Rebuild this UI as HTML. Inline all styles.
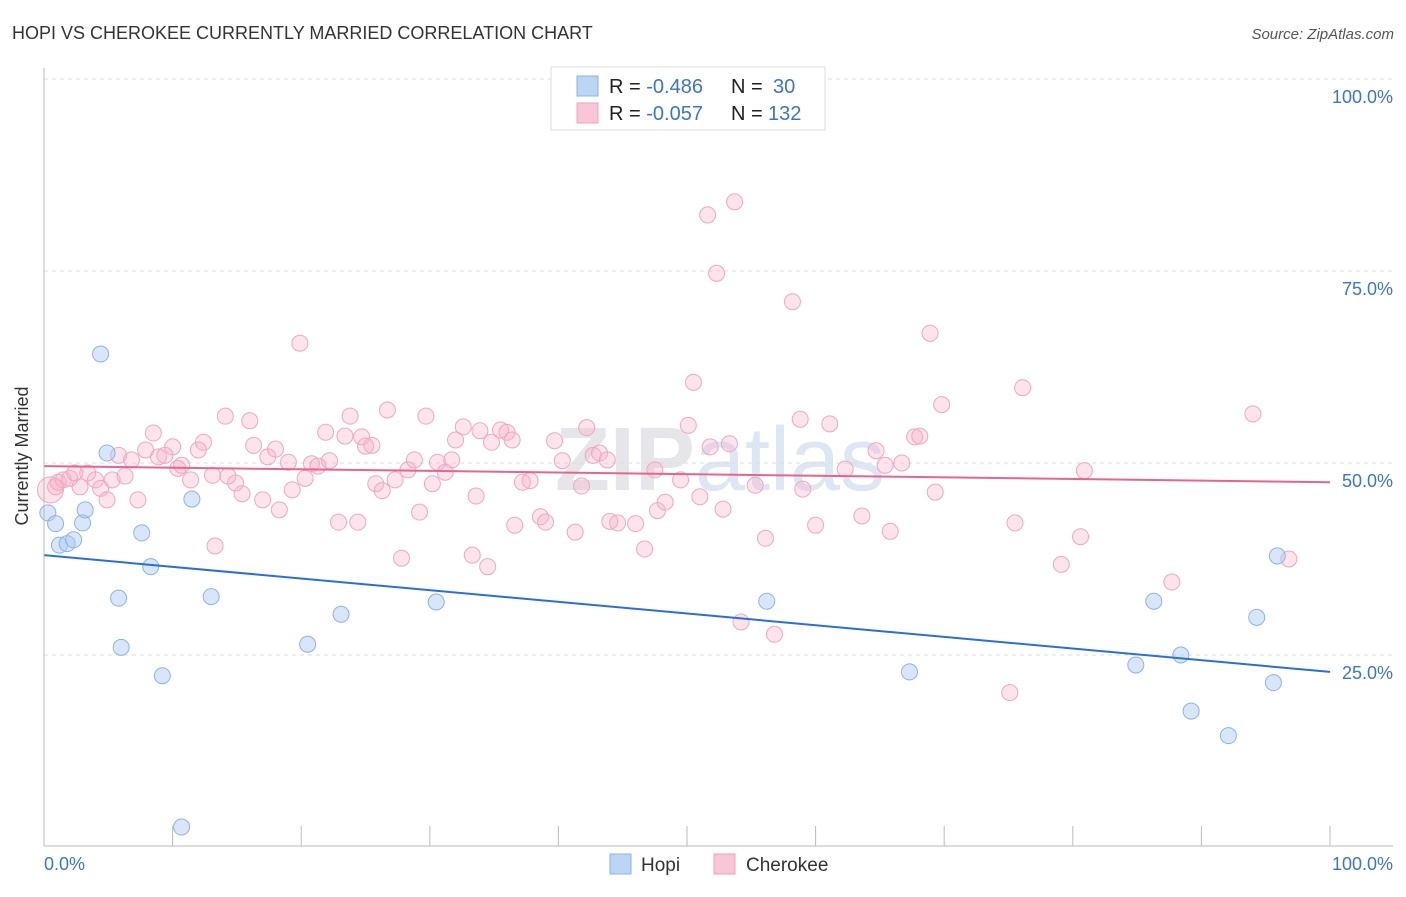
<!DOCTYPE html>
<html><head><meta charset="utf-8"><style>
body{margin:0;background:#fff;font-family:"Liberation Sans",sans-serif}
svg text{font-family:"Liberation Sans",sans-serif}
</style></head><body>
<svg id="c" width="1406" height="892" xmlns="http://www.w3.org/2000/svg">
<text x="12" y="39" font-size="18" fill="#333">HOPI VS CHEROKEE CURRENTLY MARRIED CORRELATION CHART</text>
<text x="1394" y="39" font-size="15" fill="#555" font-style="italic" text-anchor="end">Source: ZipAtlas.com</text>
<text x="28" y="456" font-size="18" fill="#333" text-anchor="middle" transform="rotate(-90 28 456)">Currently Married</text>
<text x="720" y="490" font-size="90" fill="#e6e6ea" text-anchor="middle" font-weight="bold">ZIP<tspan fill="#dde6f3" font-weight="normal">atlas</tspan></text>
<g id="grid"></g><g id="pts"></g><g id="lines"></g>
<line x1="44" y1="68" x2="44" y2="846" stroke="#bbb"/>
<line x1="44" y1="846" x2="1393" y2="846" stroke="#bbb"/>
<text x="44" y="870" font-size="18" fill="#3b74d0">0.0%</text>
<text x="1393" y="870" font-size="18" fill="#3b74d0" text-anchor="end">100.0%</text>
<g>
<rect x="551" y="67" width="274" height="63" fill="#fff" stroke="#ddd"/>
<rect x="577" y="76" width="21" height="20" fill="#bcd5f5" stroke="#8ab4e8"/>
<rect x="577" y="103" width="21" height="20" fill="#f8c6d6" stroke="#f0a0bc"/>
<text x="609" y="93" font-size="20" fill="#222">R = <tspan fill="#3b74d0">-0.486</tspan><tspan x="731">N = </tspan><tspan x="773" fill="#3b74d0">30</tspan></text>
<text x="609" y="120" font-size="20" fill="#222">R = <tspan fill="#3b74d0">-0.057</tspan><tspan x="731">N = </tspan><tspan x="768" fill="#3b74d0">132</tspan></text>
</g>
<g>
<rect x="610" y="854" width="21" height="20" fill="#bcd5f5" stroke="#8ab4e8"/>
<text x="641" y="871" font-size="19" fill="#333">Hopi</text>
<rect x="714" y="854" width="21" height="20" fill="#f8c6d6" stroke="#f0a0bc"/>
<text x="746" y="871" font-size="19" fill="#333">Cherokee</text>
</g>
</svg>
<script>
const yTicks=[25,50,75,100];
const yTickLabels=["25.0%","50.0%","75.0%","100.0%"];
const xTicks=[0,10,20,30,40,50,60,70,80,90,100];
const hopiX=[0.3,0.9,1.2,1.8,2.3,3.0,3.2,4.4,4.9,5.8,6.0,7.6,8.3,9.2,10.7,11.5,13.0,20.5,23.1,30.5,56.2,67.3,84.9,86.3,88.4,89.2,92.1,94.3,95.6,95.9];
const hopiY=[43.5,42.1,39.3,39.5,40.0,42.2,43.9,64.2,51.3,32.4,26.0,40.9,36.5,22.3,2.6,45.3,32.6,26.4,30.3,31.9,32.0,22.8,23.7,32.0,25.0,17.7,14.5,29.9,21.4,37.9];
const cherX=[0.5,0.9,1.1,1.5,2.0,2.4,2.8,3.4,4.0,4.4,4.9,5.3,5.8,6.3,6.8,7.3,7.9,8.5,8.9,9.4,10.0,10.4,10.7,11.4,12.0,12.4,13.1,13.3,14.1,14.3,14.9,15.4,16.0,16.3,17.0,17.4,18.0,18.3,19.0,19.3,19.9,20.3,20.8,21.3,21.9,22.2,22.9,23.4,23.8,24.4,24.7,25.0,25.5,25.8,26.3,26.7,27.3,27.8,28.3,28.8,29.2,29.7,30.2,30.6,31.2,31.7,32.0,32.6,33.3,33.6,33.9,34.5,34.8,35.5,36.0,36.4,36.6,37.2,37.8,38.6,39.0,39.7,40.3,41.3,41.8,42.2,42.7,43.2,43.8,44.0,44.6,46.0,46.7,47.5,47.7,48.3,49.5,50.1,50.5,51.0,51.6,51.8,52.3,52.8,53.3,53.7,54.2,55.3,56.1,56.8,58.2,58.8,59.0,60.0,61.1,62.3,63.6,64.7,65.4,65.8,66.7,67.7,68.1,68.9,69.3,69.8,75.1,75.5,76.1,79.1,80.6,80.9,87.7,94.0,96.8];
const cherY=[46.5,46.9,47.5,47.8,48.0,48.7,46.9,48.7,47.8,46.7,45.2,47.8,51.0,48.3,50.4,45.2,51.7,53.9,50.8,51.0,52.1,49.3,49.7,47.8,51.7,52.7,48.4,39.2,56.1,48.3,47.4,46.0,55.5,52.3,45.2,50.8,51.8,43.9,50.1,46.5,65.6,48.0,49.9,49.6,54.0,50.3,42.3,53.5,56.1,42.3,53.4,52.2,52.3,47.3,46.4,56.9,47.8,37.6,49.1,50.4,43.6,56.1,47.3,50.1,48.8,50.4,53.0,54.7,38.0,45.7,54.2,36.5,52.7,54.3,54.0,53.0,41.9,47.5,47.7,43.0,42.3,52.9,50.3,41.0,47.0,54.6,51.0,51.3,50.4,42.4,42.2,42.1,38.8,49.1,43.8,44.9,47.8,54.9,60.5,45.6,82.3,52.1,74.7,44.0,52.5,84.0,29.3,47.1,40.2,27.7,71.0,55.7,46.6,41.9,55.1,49.2,43.1,51.6,49.7,41.1,50.0,53.4,53.5,66.9,46.2,57.6,20.1,42.2,59.8,36.8,40.4,49.0,34.5,56.4,37.5];
const hopiTrend=[38.0,22.8];
const cherTrend=[49.6,47.5];
const NS="http://www.w3.org/2000/svg";
const X=v=>44+v*12.86, Y=v=>847-v*7.68;
function mk(t,a,p){const e=document.createElementNS(NS,t);for(const k in a)e.setAttribute(k,a[k]);p.appendChild(e);return e;}
const grid=document.getElementById('grid');
yTicks.forEach((t,i)=>{
 const l=mk('line',{x1:44,x2:1393,y1:Y(t),y2:Y(t),stroke:'#ddd','stroke-dasharray':'4,4'},grid);
 
 
 const tx=mk('text',{x:1393,y:Y(t)+24,'font-size':18,fill:'#3b74d0','text-anchor':'end'},grid);
 tx.textContent=yTickLabels[i];
 
 
});
xTicks.forEach(t=>{
 const l=mk('line',{x1:X(t),x2:X(t),y1:826,y2:846,stroke:'#bbb'},grid);
 
 
});
const pts=document.getElementById('pts');
cherX.forEach((x,i)=>{
 const c=mk('circle',{cx:X(x),cy:Y(cherY[i]),r:i==0?13:8,fill:'rgba(246,176,200,0.35)',stroke:'#f0a8c0','stroke-width':1},pts);
 
 
});
hopiX.forEach((x,i)=>{
 const c=mk('circle',{cx:X(x),cy:Y(hopiY[i]),r:8,fill:'rgba(170,200,242,0.45)',stroke:'#8ab4e8','stroke-width':1},pts);
 
 
});
const lines=document.getElementById('lines');
const hl=mk('line',{x1:X(0),y1:Y(hopiTrend[0]),x2:X(100),y2:Y(hopiTrend[1]),stroke:'#2a6fd6','stroke-width':2},lines);


const cl=mk('line',{x1:X(0),y1:Y(cherTrend[0]),x2:X(100),y2:Y(cherTrend[1]),stroke:'#e8648f','stroke-width':2},lines);


</script>
</body></html>
